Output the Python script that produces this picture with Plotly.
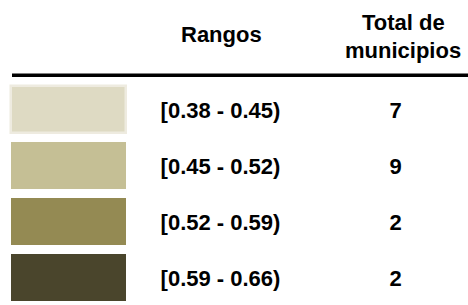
import plotly.graph_objects as go

rangos = ["[0.38 - 0.45)", "[0.45 - 0.52)", "[0.52 - 0.59)", "[0.59 - 0.66)"]
totales = [7, 9, 2, 2]
colores = ["#DEDAC3", "#C5BF95", "#948A53", "#4A452C"]
header_rangos = "Rangos"
header_total = ["Total de", "municipios"]

rows = list(range(len(rangos)))
FONT = "Liberation Sans, Arial, sans-serif"
TEXT_DY = 0.055  # text baseline nudge relative to swatch centre

fig = go.Figure()

# colour swatches
fig.add_trace(go.Bar(
    y=rows, x=[115] * len(rows), base=[11] * len(rows), orientation="h",
    width=0.85,
    marker=dict(color=colores,
                line=dict(color=["#EEEBE0"] + colores, width=[2.5, 0, 0, 0])),
    hoverinfo="skip", showlegend=False,
))
# range labels
fig.add_trace(go.Scatter(
    y=[r + TEXT_DY for r in rows], x=[220.5] * len(rows), mode="text", text=rangos,
    textfont=dict(family=FONT, size=22, color="black", weight="bold"),
    textposition="middle center", hoverinfo="skip", showlegend=False,
))
# totals
fig.add_trace(go.Scatter(
    y=[r + TEXT_DY for r in rows], x=[395.5] * len(rows), mode="text",
    text=[str(t) for t in totales],
    textfont=dict(family=FONT, size=22, color="black", weight="bold"),
    textposition="middle center", hoverinfo="skip", showlegend=False,
))

hfont = dict(family=FONT, size=22, color="black", weight="bold")
fig.add_annotation(x=221, y=-1.343, xref="x", yref="y", text=header_rangos,
                   showarrow=False, font=hfont)
fig.add_annotation(x=403, y=-1.558, xref="x", yref="y", text=header_total[0],
                   showarrow=False, font=hfont)
fig.add_annotation(x=403, y=-1.06, xref="x", yref="y", text=header_total[1],
                   showarrow=False, font=hfont)
fig.add_shape(type="line", x0=12, x1=468, y0=-0.613, y1=-0.613, xref="x", yref="y",
              line=dict(color="black", width=3.5))

fig.update_layout(
    width=468, height=305, margin=dict(l=0, r=0, t=0, b=0),
    paper_bgcolor="white", plot_bgcolor="white",
    xaxis=dict(range=[0, 468], visible=False, fixedrange=True),
    yaxis=dict(range=[3.491, -1.955], visible=False, fixedrange=True),
    bargap=0,
)
fig.write_html("out.html", config={"displayModeBar": False},
               post_script="document.body.style.margin='0px';document.body.style.overflow='hidden';")
